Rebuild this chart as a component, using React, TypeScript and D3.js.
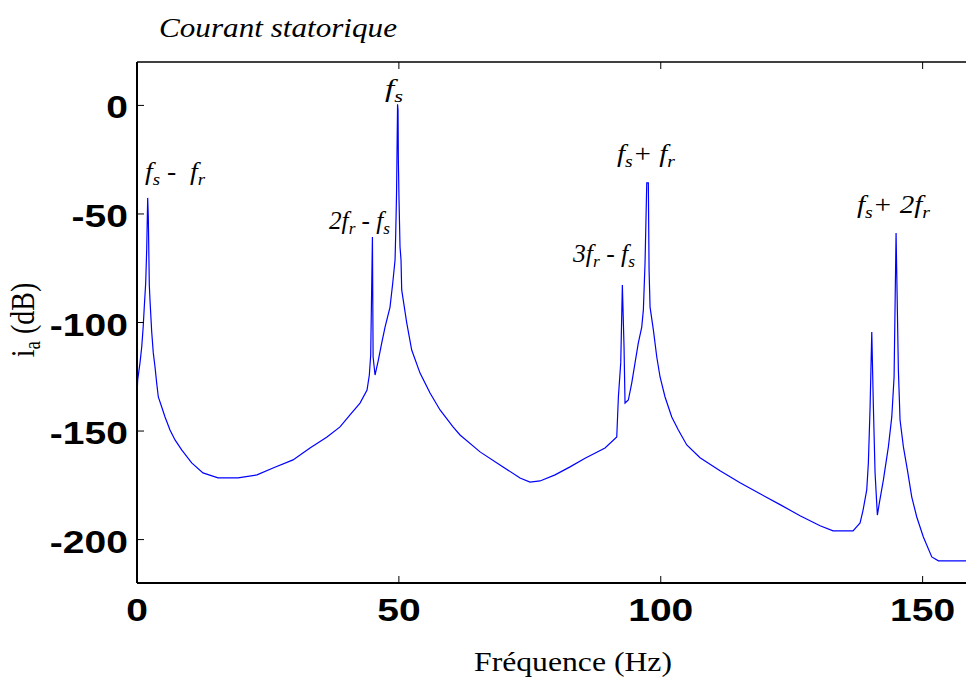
import React from 'react';
import * as d3 from 'd3';

// spectre du courant statorique
const freq = [
  0, 0.13, 0.57, 0.9, 1.18, 1.39, 1.66, 1.85, 2.04, 2.16, 2.35, 2.48, 2.81, 3.11, 3.44, 3.76, 4.07,
  4.72, 5.35, 6.3, 7.26, 8.53, 10.44, 12.6, 15.47, 19.29, 22.91, 25.97, 29.79, 33.03, 36.28,
  38.76, 40.67, 42.58, 43.92, 44.36, 44.62, 44.95, 45.08, 45.45, 46.08, 46.73, 47.36, 48.31,
  48.83, 49.27, 49.4, 49.55, 49.75, 49.84, 49.9, 50.03, 50.22, 50.41, 50.54, 51.5, 52.45, 54.04,
  55.95, 57.86, 60.34, 61.68, 65.5, 69.31, 73.13, 75.04, 76.95, 79.82, 82.68, 85.55, 89.36,
  91.6, 91.91, 92.36, 92.67, 92.99, 93.18, 93.81, 94.46, 95.09, 95.72, 96.37, 96.68, 97.0,
  97.33, 97.63, 97.77, 97.96, 98.59, 99.24, 99.87, 100.82, 102.1, 103.36, 104.97, 107.5,
  111.32, 115.14, 118.96, 122.78, 126.6, 130.42, 132.9, 136.72, 138.06, 138.63, 139.33,
  139.64, 139.97, 140.29, 140.6, 140.92, 141.36, 141.74, 142.51, 143.46, 144.11, 144.55,
  144.93, 145.37, 145.69, 146.33, 147.09, 147.93, 148.88, 150.14, 151.75, 153.01, 160,
];
const level = [
  -133.8, -126.5, -118.6, -111.3, -102.1, -92.9, -81.8, -66.6, -42.6, -51.4, -82.7, -89.6,
  -104.4, -114.0, -120.5, -127.9, -134.3, -138.9, -143.5, -149.5, -154.1, -158.7, -164.7,
  -169.3, -171.6, -171.6, -170.2, -167.0, -163.3, -157.8, -152.7, -148.1, -142.6, -137.1,
  -131.1, -124.2, -115.0, -60.6, -115.9, -124.2, -117.3, -109.4, -102.1, -92.9, -81.8, -71.2,
  -58.8, -41.3, 0.5, -2.1, -25.1, -43.6, -65.2, -71.2, -85.0, -100.2, -112.7, -123.3, -132.5,
  -140.3, -148.1, -151.8, -159.6, -165.6, -171.6, -173.5, -173.0, -170.2, -166.5, -162.5,
  -157.8, -152.7, -134.3, -118.6, -82.7, -111.3, -137.1, -135.7, -127.9, -118.6, -109.4,
  -102.1, -94.2, -72.6, -35.7, -35.7, -75.8, -92.9, -103.4, -115.9, -125.1, -134.3, -143.5,
  -149.5, -156.4, -162.3, -168.3, -173.8, -178.9, -183.9, -189.0, -193.6, -196.0, -196.0,
  -192.3, -186.4, -177.1, -164.7, -138.9, -104.4, -138.9, -169.3, -188.7, -183.1, -172.5,
  -157.3, -143.5, -125.1, -58.8, -121.9, -144.9, -157.3, -167.9, -180.4, -189.6, -198.8,
  -208.0, -209.8, -209.8,
];

const xTicks = [0, 50, 100, 150];
const yTicks = [0, -50, -100, -150, -200];

// annotations des raies ( _x = indice )
const noteText = ['f_s -  f_r', 'f_s', '2f_r - f_s', '3f_r - f_s', 'f_s+ f_r', 'f_s+ 2f_r'];
const noteFreq = [1.53, 47.35, 36.66, 83.25, 91.65, 137.47];
const noteLevel = [-34.4, 3.9, -56.9, -72.1, -26.1, -49.6];
const noteWidth = [60, 18, 61, 62, 58, 73];

const W = 966;
const H = 680;
const SX = 1.22; // la figure d'origine est etiree horizontalement
const serif = 'Liberation Serif, Times New Roman, serif';
const sans = 'Liberation Sans, Arial, sans-serif';

const parse = (s: string) => {
  const segs: {t: string; sub: boolean}[] = [];
  let buf = '';
  for (let i = 0; i < s.length; i++) {
    if (s[i] === '_') {
      if (buf) segs.push({t: buf, sub: false});
      buf = '';
      segs.push({t: s[i + 1], sub: true});
      i++;
    } else buf += s[i];
  }
  if (buf) segs.push({t: buf, sub: false});
  return segs;
};

const Rich = ({s, size, subSize, shift}: {s: string; size: number; subSize: number; shift: number}) => {
  let down = false;
  return (
    <>
      {parse(s).map((seg, i) => {
        let dy = 0;
        if (seg.sub && !down) { dy = shift; down = true; }
        else if (!seg.sub && down) { dy = -shift; down = false; }
        return (
          <tspan key={i} dy={dy} fontSize={seg.sub ? subSize : size}>{seg.t}</tspan>
        );
      })}
    </>
  );
};

export default function App() {
  const x = d3.scaleLinear().domain([0, 160]).range([137, 975]);
  const y = d3.scaleLinear().domain([-220, 20]).range([583, 62]);
  const [x0, x1] = x.range();
  const [yb, yt] = y.range();

  const line = d3.line<number>()
    .x((_, i) => x(freq[i]))
    .y(d => y(d));

  const tick = 7;

  return (
    <svg width={W} height={H} style={{position: 'absolute', left: 0, top: 0, background: '#fff'}}>
      <defs>
        <clipPath id="plot">
          <rect x={x0} y={yt} width={x1 - x0} height={yb - yt} />
        </clipPath>
      </defs>

      <path d={line(level) || ''} fill="none" stroke="#0000ff" strokeWidth={1.2} clipPath="url(#plot)" />

      {/* cadre */}
      <line x1={x0} x2={x1} y1={yt} y2={yt} stroke="#000" strokeWidth={1.5} />
      <line x1={x0} x2={x1} y1={yb} y2={yb} stroke="#000" strokeWidth={2} />
      <line x1={x0} x2={x0} y1={yt} y2={yb} stroke="#000" strokeWidth={2} />
      <line x1={x1} x2={x1} y1={yt} y2={yb} stroke="#000" strokeWidth={1.5} />

      {xTicks.map(t => (
        <g key={'x' + t}>
          <line x1={x(t)} x2={x(t)} y1={yb} y2={yb - tick} stroke="#000" strokeWidth={1} />
          <line x1={x(t)} x2={x(t)} y1={yt} y2={yt + tick} stroke="#000" strokeWidth={1} />
          <text transform={`translate(${x(t)},621) scale(${SX},1)`} textAnchor="middle"
            fontFamily={sans} fontWeight="bold" fontSize={32}>{t}</text>
        </g>
      ))}
      {yTicks.map(t => (
        <g key={'y' + t}>
          <line x1={x0} x2={x0 + tick} y1={y(t)} y2={y(t)} stroke="#000" strokeWidth={1} />
          <line x1={x1} x2={x1 - tick} y1={y(t)} y2={y(t)} stroke="#000" strokeWidth={1} />
          <text transform={`translate(128,${y(t) + 13}) scale(${SX},1)`} textAnchor="end"
            fontFamily={sans} fontWeight="bold" fontSize={32}>{t}</text>
        </g>
      ))}

      {noteText.map((s, i) => (
        <text key={s} x={x(noteFreq[i])} y={y(noteLevel[i])}
          textLength={noteWidth[i]} lengthAdjust="spacingAndGlyphs"
          fontFamily={serif} fontStyle="italic" style={{whiteSpace: 'pre'}}>
          <Rich s={s} size={25} subSize={17} shift={5} />
        </text>
      ))}

      <text x={159} y={37} textLength={238} lengthAdjust="spacingAndGlyphs"
        fontFamily={serif} fontStyle="italic" fontSize={27}>Courant statorique</text>

      <text x={474} y={671} textLength={198} lengthAdjust="spacingAndGlyphs"
        fontFamily={serif} fontSize={28}>Fréquence (Hz)</text>

      <text transform={`translate(34,320) scale(${SX},1) rotate(-90)`} textAnchor="middle"
        fontFamily={serif} style={{whiteSpace: 'pre'}}>
        <Rich s="i_a (dB)" size={28} subSize={19} shift={5} />
      </text>
    </svg>
  );
}
